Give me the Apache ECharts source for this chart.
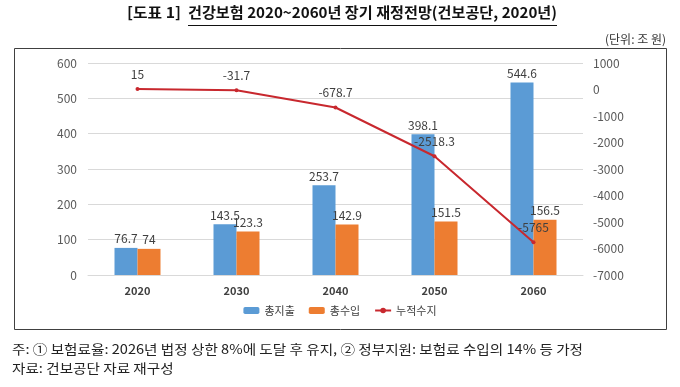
<!DOCTYPE html>
<html><head><meta charset="utf-8">
<script src="https://cdn.jsdelivr.net/npm/echarts@6/dist/echarts.min.js"></script>
<style>html,body{margin:0;padding:0;background:#fff}#c{width:680px;height:387px}</style>
</head><body><div id="c"></div>
<script>
const categories = ['2020','2030','2040','2050','2060'];
const totalExpense = [76.7, 143.5, 253.7, 398.1, 544.6];
const totalRevenue = [74, 123.3, 142.9, 151.5, 156.5];
const cumulativeBalance = [15, -31.7, -678.7, -2518.3, -5765];
const seriesNames = ['총지출', '총수입', '누적수지'];
const titlePrefix = '[도표 1]';
const titleMain = '건강보험 2020~2060년 장기 재정전망(건보공단, 2020년)';
const unitText = '(단위: 조 원)';
const note1 = '주: ① 보험료율: 2026년 법정 상한 8%에 도달 후 유지, ② 정부지원: 보험료 수입의 14% 등 가정';
const note2 = '자료: 건보공단 자료 재구성';

const FONT = '"Noto Sans CJK KR", "Noto Sans", sans-serif';
const titleFont = 'bold 15px "Noto Sans CJK KR"';
const noteFont = '13px "Noto Sans CJK KR"';
const cv = document.createElement('canvas').getContext('2d');
cv.font = titleFont;
const w1 = cv.measureText(titlePrefix).width;
const w2 = cv.measureText(titleMain).width;
const titleMainX = 188, titleMainW = 369;
const titleScale = titleMainW / w2;
const prefixScale = 54 / w1;
cv.font = noteFont;
const n1w = cv.measureText(note1).width;
const noteScale = 571 / n1w;

const chart = echarts.init(document.getElementById('c'), null, {renderer: 'canvas'});
const lbl = {show: true, position: 'top', color: '#404040', fontSize: 12, fontFamily: FONT, distance: 3};
chart.setOption({
  animation: false,
  textStyle: {fontFamily: FONT},
  grid: {left: 88, right: 97, top: 63, bottom: 112, containLabel: false},
  legend: {
    data: seriesNames, bottom: 66, left: 'center', itemGap: 14, itemWidth: 16, itemHeight: 7,
    textStyle: {fontSize: 11, color: '#404040', fontFamily: FONT}
  },
  xAxis: {
    type: 'category', data: categories,
    axisLine: {lineStyle: {color: '#d9d9d9'}}, axisTick: {show: false},
    axisLabel: {color: '#404040', fontWeight: 'bold', fontSize: 11, margin: 10}
  },
  yAxis: [
    {type: 'value', min: 0, max: 600, interval: 100,
     axisLine: {show: false}, axisTick: {show: false},
     axisLabel: {color: '#595959', fontSize: 12, margin: 11},
     splitLine: {lineStyle: {color: '#d9d9d9'}}},
    {type: 'value', min: -7000, max: 1000, interval: 1000,
     axisLine: {show: false}, axisTick: {show: false},
     axisLabel: {color: '#595959', fontSize: 12, margin: 10, formatter: v => String(v)},
     splitLine: {show: false}}
  ],
  series: [
    {name: seriesNames[0], type: 'bar', data: totalExpense, barWidth: 23, barGap: '0%',
     itemStyle: {color: '#5B9BD5'}, label: lbl},
    {name: seriesNames[1], type: 'bar', data: totalRevenue, barWidth: 23, barGap: '0%',
     itemStyle: {color: '#ED7D31'}, label: lbl},
    {name: seriesNames[2], type: 'line', yAxisIndex: 1, data: cumulativeBalance,
     symbol: 'circle', symbolSize: 4,
     lineStyle: {color: '#C8282E', width: 2}, itemStyle: {color: '#C8282E'},
     label: Object.assign({}, lbl, {distance: 7}), z: 5}
  ],
  graphic: [
    {type: 'rect', shape: {x: 14.5, y: 48.5, width: 652, height: 281},
     style: {fill: 'none', stroke: '#404040', lineWidth: 1}, silent: true, z: -1},
    {type: 'text', x: 127, y: 5, scaleX: prefixScale, style: {text: titlePrefix, font: titleFont, fill: '#111'}},
    {type: 'text', x: titleMainX, y: 5, scaleX: titleScale, style: {text: titleMain, font: titleFont, fill: '#111'}},
    {type: 'line', shape: {x1: titleMainX, y1: 25.5, x2: titleMainX + titleMainW, y2: 25.5},
     style: {stroke: '#111', lineWidth: 1}},
    {type: 'text', right: 14, top: 33, style: {text: unitText, font: '12px "Noto Sans CJK KR"', fill: '#333'}},
    {type: 'text', x: 12, y: 343, scaleX: noteScale, style: {text: note1, font: noteFont, fill: '#222'}},
    {type: 'text', x: 12, y: 362, scaleX: noteScale, style: {text: note2, font: noteFont, fill: '#222'}}
  ]
});
</script>
</body></html>
